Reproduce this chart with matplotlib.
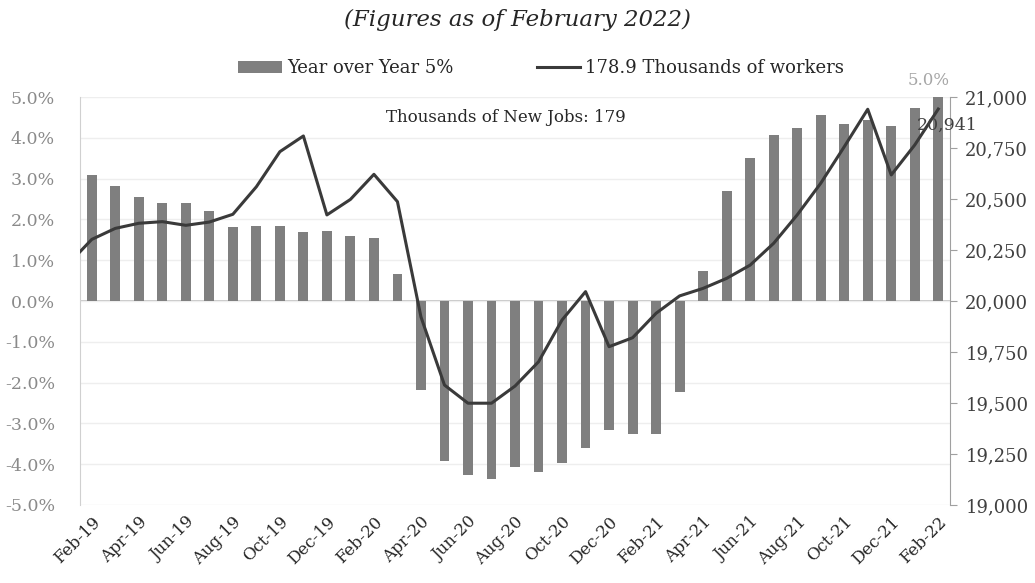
import matplotlib
matplotlib.use("Agg")
import matplotlib.pyplot as plt
import matplotlib.ticker as mticker

# months shown on the axis
months = ["Feb-19", "Mar-19", "Apr-19", "May-19", "Jun-19", "Jul-19", "Aug-19", "Sep-19",
          "Oct-19", "Nov-19", "Dec-19", "Jan-20", "Feb-20", "Mar-20", "Apr-20", "May-20",
          "Jun-20", "Jul-20", "Aug-20", "Sep-20", "Oct-20", "Nov-20", "Dec-20", "Jan-21",
          "Feb-21", "Mar-21", "Apr-21", "May-21", "Jun-21", "Jul-21", "Aug-21", "Sep-21",
          "Oct-21", "Nov-21", "Dec-21", "Jan-22", "Feb-22"]

# year over year change (%)
yoy = [3.09, 2.83, 2.56, 2.39, 2.39, 2.21, 1.81, 1.85, 1.83, 1.70, 1.72, 1.59, 1.54, 0.65,
       -2.18, -3.92, -4.27, -4.36, -4.06, -4.19, -3.97, -3.61, -3.17, -3.26, -3.26, -2.23,
       0.74, 2.70, 3.50, 4.08, 4.25, 4.57, 4.35, 4.44, 4.30, 4.74, 5.0]

# thousands of workers (first value is Jan-19, partly cut by the axis)
workers_jan19 = 20181
workers = [20302, 20356, 20381, 20389, 20371, 20387, 20425, 20560, 20732, 20809, 20422,
           20498, 20621, 20487, 19922, 19588, 19499, 19499, 19583, 19702, 19907, 20046,
           19776, 19820, 19940, 20025, 20062, 20111, 20176, 20283, 20422, 20577, 20756,
           20940, 20618, 20765, 20941]

plt.rcParams["font.family"] = ["DejaVu Serif"]

bar_col = "#7f7f7f"
line_col = "#3a3a3a"

fig = plt.figure(figsize=(10.35, 5.83), dpi=100)
ax = fig.add_axes([0.0773, 0.1338, 0.8406, 0.6998])
ax2 = ax.twinx()

x = list(range(len(months)))
ax.bar(x, yoy, width=0.42, color=bar_col, zorder=2, label="Year over Year 5%")
ax.set_ylim(-5, 5)
ax.set_yticks([-5, -4, -3, -2, -1, 0, 1, 2, 3, 4, 5])
ax.yaxis.set_major_formatter(mticker.FuncFormatter(lambda v, p: f"{v:.1f}%"))
ax.grid(axis="y", color="#eeeeee", linewidth=1, zorder=0)
ax.axhline(0, color="#c0c0c0", linewidth=1.3, zorder=1)
ax.set_xlim(-0.5, len(months) - 0.5)
ax.set_xticks(x[::2])
ax.set_xticklabels(months[::2], rotation=45, ha="right", rotation_mode="anchor",
                   fontsize=12, color="#262626")
ax.tick_params(axis="x", length=0, pad=6)
ax.tick_params(axis="y", length=0, pad=18, labelsize=12.5, labelcolor="#8a8a8a")
for s in ["top", "right", "bottom"]:
    ax.spines[s].set_visible(False)
ax.spines["left"].set_color("#d0d0d0")

ax2.plot([-1] + x, [workers_jan19] + workers, color=line_col, linewidth=2.2, zorder=3,
         label="178.9 Thousands of workers")
ax2.set_ylim(19000, 21000)
ax2.set_yticks(range(19000, 21001, 250))
ax2.yaxis.set_major_formatter(mticker.FuncFormatter(lambda v, p: f"{v:,.0f}"))
ax2.tick_params(axis="y", length=5, color="#a0a0a0", labelsize=13, labelcolor="#404040", pad=6)
for s in ["top", "left", "bottom"]:
    ax2.spines[s].set_visible(False)
ax2.spines["right"].set_color("#a0a0a0")
ax2.set_xlim(-0.5, len(months) - 0.5)

# annotations
ax.text(x[-1] - 0.4, yoy[-1] + 0.2, f"{yoy[-1]:.1f}%", ha="center", va="bottom",
        fontsize=12, color="#a6a6a6")
ax2.text(x[-1] + 0.4, workers[-1] - 40, f"{workers[-1]:,}", ha="center", va="top",
         fontsize=12.5, color="#404040")
ax.text(17.6, 4.5, "Thousands of New Jobs: 179", ha="center", va="center",
        fontsize=12, color="#262626")

fig.text(0.5, 0.966, "(Figures as of February 2022)", ha="center", va="center",
         fontsize=16.5, style="italic", color="#262626")

h1, l1 = ax.get_legend_handles_labels()
h2, l2 = ax2.get_legend_handles_labels()
fig.legend(h1 + h2, l1 + l2, loc="center", bbox_to_anchor=(0.523, 0.883), ncol=2,
           frameon=False, fontsize=13, handlelength=2.4, columnspacing=4.6,
           handletextpad=0.3, labelcolor="#262626", handleheight=0.6)

fig.savefig("out.png", dpi=100, facecolor="white")
